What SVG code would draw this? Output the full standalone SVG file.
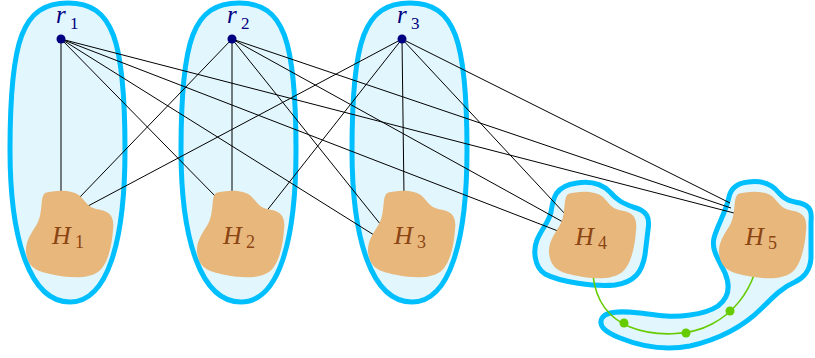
<svg xmlns="http://www.w3.org/2000/svg" xmlns:xlink="http://www.w3.org/1999/xlink" width="815" height="358" viewBox="0 0 815 358">
<style>
.part{fill:#e2f6fd;stroke:#00bfff;stroke-width:5;stroke-linejoin:round}
.edge{stroke:#000;stroke-width:1;fill:none}
.blob{fill:#e8b77c;stroke:none}
.hl{font-family:"Liberation Serif",serif;font-style:italic;font-size:26px;fill:#8b4513}
.rl{font-family:"Liberation Serif",serif;font-style:italic;font-size:25px;fill:#000080}
.hs{font-style:normal;font-size:18px}
.rs{font-style:normal;font-size:17px}
.dot{fill:#000080}
.gdot{fill:#66cc00}
.green{fill:none;stroke:#66cc00;stroke-width:1.6}
</style>
<defs>
<path id="oval" d="M68,3 C22,3 10,40 10,150 C10,240 30,302 70,302 C108,302 125,240 125,150 C125,40 113,3 68,3 Z"/>
<path id="blobshape" d="M45,193 C55,190 72,189 80,196 C86,202 88,207 96,209 C108,211 115,214 113,230 C112,245 108,265 98,272 C88,279 70,278 55,275 C40,272 28,270 26,252 C25,240 34,230 38,222 C43,210 40,197 45,193 Z"/>
</defs>
<g id="parts">
<g id="part1"><use xlink:href="#oval" class="part"/></g>
<g id="part2"><use xlink:href="#oval" class="part" transform="translate(171,0)"/></g>
<g id="part3"><use xlink:href="#oval" class="part" transform="translate(342,0)"/></g>
<g id="part4"><path class="part" d="M577,183 C590,181 602,184 610,192 C617,200 622,203 633,207 C648,211 650,218 648,230 L645,255 C642,272 635,282 615,285 C595,287 560,282 545,274 C534,267 533,250 537,240 C542,228 549,222 551,212 C553,198 555,186 577,183 Z"/></g>
<g id="part5"><path class="part" d="M748,182 C762,180 772,184 779,193 C785,200 790,201 800,203 C811,206 812,212 811,222 L811,258 C810,272 803,278 795,282 C783,287 775,295 762,308 C748,322 725,338 690,346 C665,351 640,346 620,338 C605,332 598,326 602,318 C606,311 620,311 640,313 C655,315 670,318 690,315 C705,313 712,310 718,306 C730,297 730,285 725,273 C719,260 711,250 714,238 C717,226 726,212 729,197 C731,188 738,183 748,182 Z"/></g>
</g>
<g id="connectors">
<path class="edge" d="M61,39 L61,195 M61,39 L217,198 M61,39 L374,235 M61,39 L558,231 M61,39 L734,213"/>
<path class="edge" d="M232,39 L79,198 M232,39 L232,195 M232,39 L381,225 M232,39 L563,222 M232,39 L731,208"/>
<path class="edge" d="M402,39 L88,206 M402,39 L265,213 M402,39 L404,196 M402,39 L566,215 M402,39 L730,203"/>
<path class="green" d="M593,276 C596,300 608,318 630,327 C655,337 690,336 712,324 C735,312 748,292 754,275"/>
<circle class="gdot" cx="624" cy="323" r="4.5"/>
<circle class="gdot" cx="686" cy="333" r="4.5"/>
<circle class="gdot" cx="730" cy="311" r="4.5"/>
</g>
<g id="r1"><circle class="dot" cx="61" cy="39" r="4.5"/><text class="rl" x="56" y="23">r<tspan class="rs" x="70" y="29">1</tspan></text></g>
<g id="r2"><circle class="dot" cx="232" cy="39" r="4.5"/><text class="rl" x="227" y="23">r<tspan class="rs" x="241" y="29">2</tspan></text></g>
<g id="r3"><circle class="dot" cx="402" cy="39" r="4.5"/><text class="rl" x="397" y="23">r<tspan class="rs" x="411" y="29">3</tspan></text></g>
<g id="H1"><use xlink:href="#blobshape" class="blob"/><text class="hl" x="52" y="244">H<tspan class="hs" x="75" y="248">1</tspan></text></g>
<g id="H2"><use xlink:href="#blobshape" class="blob" transform="translate(171,0)"/><text class="hl" x="223" y="244">H<tspan class="hs" x="246" y="248">2</tspan></text></g>
<g id="H3"><use xlink:href="#blobshape" class="blob" transform="translate(342,0)"/><text class="hl" x="394" y="244">H<tspan class="hs" x="417" y="248">3</tspan></text></g>
<g id="H4"><use xlink:href="#blobshape" class="blob" transform="translate(523,1)"/><text class="hl" x="575" y="245">H<tspan class="hs" x="598" y="249">4</tspan></text></g>
<g id="H5"><use xlink:href="#blobshape" class="blob" transform="translate(693,1)"/><text class="hl" x="745" y="245">H<tspan class="hs" x="768" y="249">5</tspan></text></g>
</svg>
